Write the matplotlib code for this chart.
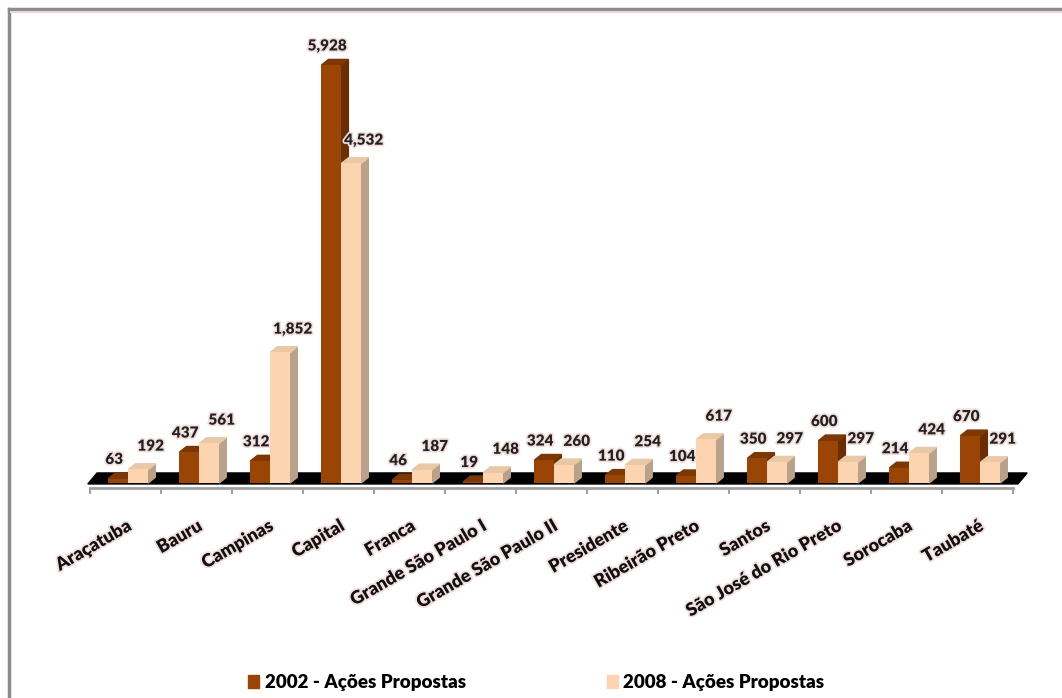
import matplotlib.pyplot as plt
import matplotlib.patheffects as pe
from matplotlib.lines import Line2D
from matplotlib.patches import Patch

regioes = ["Araçatuba", "Bauru", "Campinas", "Capital", "Franca", "Grande São Paulo I",
           "Grande São Paulo II", "Presidente", "Ribeirão Preto", "Santos",
           "São José do Rio Preto", "Sorocaba", "Taubaté"]
acoes_2002 = [63, 437, 312, 5928, 46, 19, 324, 110, 104, 350, 600, 214, 670]
acoes_2008 = [192, 561, 1852, 4532, 187, 148, 260, 254, 617, 297, 297, 424, 291]
serie_2002 = "2002 - Ações Propostas"
serie_2008 = "2008 - Ações Propostas"

dark, dark_side, dark_top = "#9a4506", "#6b2e02", "#7d3703"
light, light_side, light_top = "#fcd5b0", "#b9a18a", "#e9c8a6"

plt.rcParams['font.family'] = ['Lato', 'DejaVu Sans']

fig = plt.figure(figsize=(10.62, 6.98), dpi=100)
ax = fig.add_axes([0.0847, 0.3009, 0.8691, 0.656])
ax.set_xlim(-0.5, 12.5)
ax.set_ylim(-71, 6424)

w = 0.28
dx, dy = 0.1, 80
x = list(range(len(regioes)))

# floor
ax.fill([-0.53, -0.40, 12.70, 12.57], [-14, 142, 142, -14], color="black", zorder=1, clip_on=False)

halo = [pe.withStroke(linewidth=2.5, foreground="#f3dede")]

def draw_bar(xc, h, front, side, top):
    l, r = xc - w / 2, xc + w / 2
    ax.fill([r, r + dx, r + dx, r], [0, dy, h + dy, h], color=side, zorder=2, clip_on=False)
    ax.fill([l, l + dx, r + dx, r], [h, h + dy, h + dy, h], color=top, zorder=2, clip_on=False)
    ax.bar(xc, h, width=w, color=front, zorder=3)

for i in x:
    draw_bar(i - 0.10, acoes_2002[i], dark, dark_side, dark_top)
    draw_bar(i + 0.18, acoes_2008[i], light, light_side, light_top)

for i in x:
    ax.annotate(f"{acoes_2002[i]:,}", (i - 0.10, acoes_2002[i] + dy), xytext=(-3, 5),
                textcoords="offset points", ha="center", va="bottom", fontsize=11,
                fontweight="heavy", color="#222222", path_effects=halo, zorder=5)
    ax.annotate(f"{acoes_2008[i]:,}", (i + 0.18, acoes_2008[i] + dy), xytext=(9, 8),
                textcoords="offset points", ha="center", va="bottom", fontsize=11,
                fontweight="heavy", color="#222222", path_effects=halo, zorder=5)

for s in ["top", "right", "left"]:
    ax.spines[s].set_visible(False)
ax.spines["bottom"].set_color("#a0a0a0")
ax.spines["bottom"].set_linewidth(2)
ax.set_yticks([])
ax.set_xticks(x)
ax.set_xticklabels(regioes, rotation=30, ha="right", rotation_mode="anchor",
                   fontsize=13, fontweight="heavy", color="#111111")
for t in ax.get_xticklabels():
    t.set_path_effects(halo)
ax.tick_params(axis="x", which="major", length=0, pad=21)
ax.set_xticks([k - 0.5 for k in range(len(regioes) + 1)], minor=True)
ax.tick_params(axis="x", which="minor", length=4, width=1.5, color="#a0a0a0")

fig.legend(handles=[Patch(color=dark), Patch(color=light)], labels=[serie_2002, serie_2008],
           loc="center", bbox_to_anchor=(0.505, 0.022), ncol=2, frameon=False,
           handlelength=0.6, handleheight=0.7, handletextpad=0.3, columnspacing=7.5,
           prop={"weight": "heavy", "size": 13.5})

# outer frame
fig.add_artist(Line2D([9 / 1062, 9 / 1062], [0, 1 - 9 / 698], transform=fig.transFigure,
                      color="#8c8c8c", lw=2.5))
fig.add_artist(Line2D([9 / 1062, 1], [1 - 9 / 698, 1 - 9 / 698], transform=fig.transFigure,
                      color="#8c8c8c", lw=2.5))
fig.add_artist(Line2D([11 / 1062, 1], [1 - 11.5 / 698, 1 - 11.5 / 698], transform=fig.transFigure,
                      color="#ecd6d8", lw=1.5))

fig.savefig("out.png", dpi=100)
